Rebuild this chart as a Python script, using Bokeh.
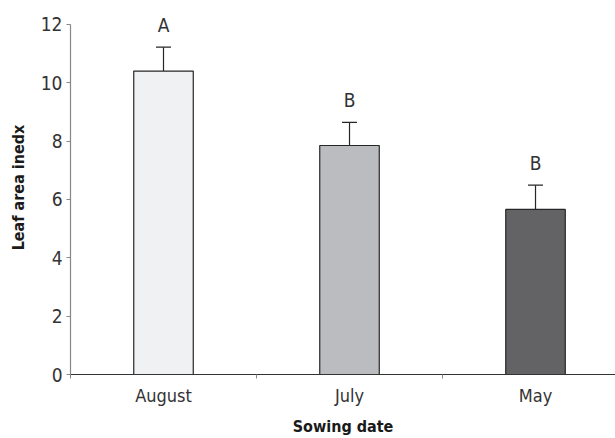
from bokeh.plotting import figure
from bokeh.models import Range1d, FixedTicker, Whisker, TeeHead, ColumnDataSource
from bokeh.core.properties import value
from bokeh.embed import file_html
from bokeh.resources import INLINE

categories = ["August", "July", "May"]
lai = [10.4, 7.85, 5.66]
err = [0.82, 0.79, 0.83]
letters = ["A", "B", "B"]
colors = ["#f0f1f3", "#bbbcc0", "#636365"]
y_ticks = [0, 2, 4, 6, 8, 10, 12]

FONT = "DejaVu Sans Condensed"

xs = [i + 0.5 for i in range(len(categories))]
src = ColumnDataSource(dict(
    x=xs, top=lai, upper=[v + e for v, e in zip(lai, err)],
    color=colors, letter=letters,
))

# frame extends slightly above 12 so the letter above the first bar is not clipped;
# the axis line itself is bounded to 0..12
p = figure(width=615, height=438, output_backend="svg", toolbar_location=None,
           x_range=Range1d(0, 2.93), y_range=Range1d(0, 12.82),
           min_border_left=70, min_border_right=0, min_border_top=0, min_border_bottom=62)
p.outline_line_color = None
p.grid.visible = False
p.background_fill_color = "white"
p.border_fill_color = "white"

p.vbar(x="x", top="top", width=0.32, bottom=0, source=src,
       fill_color="color", line_color="#262626", line_width=1.2)

w = Whisker(base="x", lower="top", upper="upper", source=src,
            line_color="#262626", line_width=1.2,
            upper_head=TeeHead(size=15, line_color="#262626", line_width=1.2),
            lower_head=None)
p.add_layout(w)

p.text(x="x", y="upper", text="letter", source=src, text_align="center",
       text_baseline="alphabetic", y_offset=-22, text_font=value(FONT),
       text_font_size="19px", text_color="#333333")

# x axis
p.xaxis.ticker = FixedTicker(ticks=xs, minor_ticks=[0, 1, 2, 3])
p.xaxis.major_label_overrides = {x: c for x, c in zip(xs, categories)}
p.xaxis.major_tick_line_color = None
p.xaxis.minor_tick_line_color = "#888888"
p.xaxis.minor_tick_out = 4
p.xaxis.minor_tick_in = 0
p.xaxis.axis_line_color = "#333333"
p.xaxis.axis_line_width = 1.2
p.xaxis.major_label_text_font = FONT
p.xaxis.major_label_text_font_size = "18px"
p.xaxis.major_label_text_color = "#333333"
p.xaxis.major_label_standoff = 4
p.xaxis.axis_label = "Sowing date"
p.xaxis.axis_label_text_font = FONT
p.xaxis.axis_label_text_font_style = "bold"
p.xaxis.axis_label_text_font_size = "16px"
p.xaxis.axis_label_text_color = "#1a1a1a"
p.xaxis.axis_label_standoff = 8

# y axis
p.yaxis.ticker = FixedTicker(ticks=y_ticks)
p.yaxis.bounds = (min(y_ticks), max(y_ticks))
p.yaxis.minor_tick_line_color = None
p.yaxis.major_tick_out = 4
p.yaxis.major_tick_in = 0
p.yaxis.major_tick_line_color = "#888888"
p.yaxis.axis_line_color = "#888888"
p.yaxis.axis_line_width = 1.2
p.yaxis.major_label_text_font = FONT
p.yaxis.major_label_text_font_size = "19px"
p.yaxis.major_label_text_color = "#333333"
p.yaxis.major_label_standoff = 4
p.yaxis.axis_label = "Leaf area inedx"
p.yaxis.axis_label_text_font = FONT
p.yaxis.axis_label_text_font_style = "bold"
p.yaxis.axis_label_text_font_size = "16px"
p.yaxis.axis_label_text_color = "#1a1a1a"
p.yaxis.axis_label_standoff = 10

open("out.html", "w").write(file_html(p, INLINE))
